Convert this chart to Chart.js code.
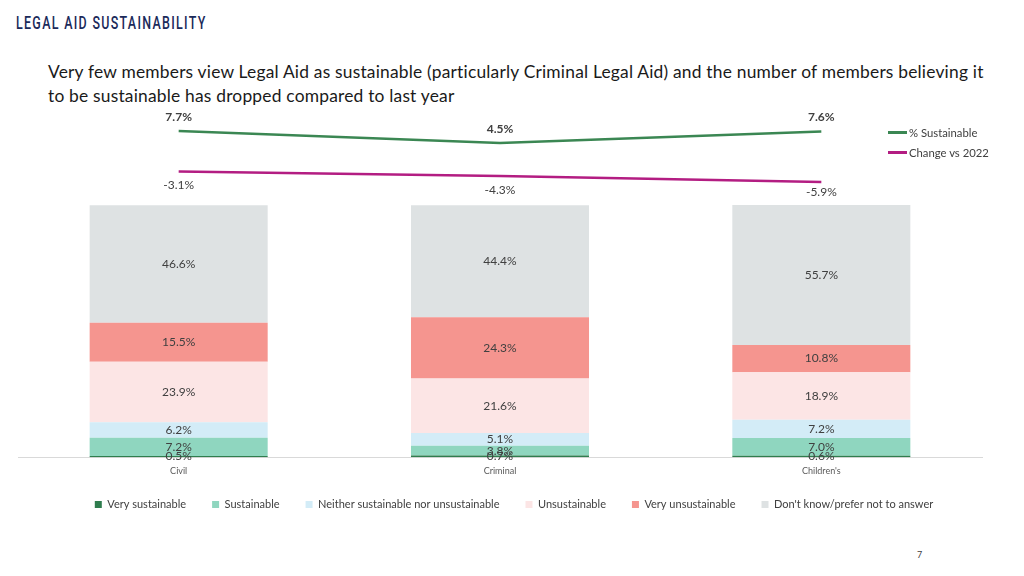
<!DOCTYPE html>
<html>
<head>
<meta charset="utf-8">
<script src="https://cdn.jsdelivr.net/npm/chart.js@4.4.0/dist/chart.umd.min.js"></script>
<style>
  html, body { margin:0; padding:0; background:#fff; }
  body { width:1024px; height:576px; position:relative; overflow:hidden; font-family: Lato, "Noto Sans", sans-serif; }
  #title { position:absolute; left:16px; top:11px; font-family:Roboto,"Liberation Sans",sans-serif; font-size:19px; letter-spacing:2px; color:#1b2a5a; font-weight:500; transform:scaleX(0.655); transform-origin:left top; white-space:nowrap; }
  #sub { position:absolute; left:48px; top:60px; width:1000px; font-size:17.4px; letter-spacing:0.2px; line-height:24px; color:#1a1a1a; white-space:nowrap; }
  #lineWrap { position:absolute; left:0; top:100px; width:1000px; height:100px; }
  #barWrap { position:absolute; left:0; top:195px; width:1024px; height:330px; }
  .lg { position:absolute; left:888px; font-size:11.3px; color:#404040; display:flex; align-items:center; }
  .lg span.ln { display:inline-block; width:19px; height:2.5px; margin-right:2px; }
  #page { position:absolute; left:917px; top:549px; font-size:9px; color:#404040; }
</style>
</head>
<body>
<div id="title">LEGAL AID SUSTAINABILITY</div>
<div id="sub">Very few members view Legal Aid as sustainable (particularly Criminal Legal Aid) and the number of members believing it<br>to be sustainable has dropped compared to last year</div>
<div id="lineWrap"><canvas id="lineChart"></canvas></div>
<div id="barWrap"><canvas id="barChart"></canvas></div>
<div class="lg" style="top:126px;"><span class="ln" style="background:#3b8753"></span>% Sustainable</div>
<div class="lg" style="top:146px;"><span class="ln" style="background:#b31d82"></span>Change vs 2022</div>
<div id="page">7</div>
<script>
const categories = ["Civil", "Criminal", "Children's"];
const pctSustainable = [7.7, 4.5, 7.6];
const changeVs2022 = [-3.1, -4.3, -5.9];

const seriesNames = ["Very sustainable", "Sustainable", "Neither sustainable nor unsustainable", "Unsustainable", "Very unsustainable", "Don't know/prefer not to answer"];
const verySustainable = [0.5, 0.7, 0.6];
const sustainable = [7.2, 3.8, 7.0];
const neither = [6.2, 5.1, 7.2];
const unsustainable = [23.9, 21.6, 18.9];
const veryUnsustainable = [15.5, 24.3, 10.8];
const dontKnow = [46.6, 44.4, 55.7];

const barColors = ["#2f7d4e", "#8fd6bf", "#d3ecf7", "#fce5e5", "#f5958f", "#dee2e3"];
const FONT = "Lato, 'Noto Sans', sans-serif";

const lineLabels = {
  id: 'lineLabels',
  afterDatasetsDraw(chart) {
    const ctx = chart.ctx;
    ctx.save();
    ctx.textAlign = 'center';
    ctx.textBaseline = 'middle';
    chart.data.datasets.forEach((ds, di) => {
      const meta = chart.getDatasetMeta(di);
      meta.data.forEach((pt, i) => {
        const v = ds.data[i];
        if (di === 0) {
          ctx.font = "bold 12px " + FONT;
          ctx.fillStyle = '#404040';
          ctx.fillText(v.toFixed(1) + '%', pt.x, pt.y - 14);
        } else {
          ctx.font = "12px " + FONT;
          ctx.fillStyle = '#404040';
          ctx.fillText(v.toFixed(1) + '%', pt.x, pt.y + (i === 2 ? 10 : 14));
        }
      });
    });
    ctx.restore();
  }
};

new Chart(document.getElementById('lineChart'), {
  type: 'line',
  data: {
    labels: categories,
    datasets: [
      { label: '% Sustainable', data: pctSustainable, borderColor: '#3b8753', borderWidth: 2.5, pointRadius: 0, tension: 0 },
      { label: 'Change vs 2022', data: changeVs2022, borderColor: '#b31d82', borderWidth: 2.5, pointRadius: 0, tension: 0 }
    ]
  },
  options: {
    responsive: true, maintainAspectRatio: false, animation: false,
    layout: { padding: { left: 18, right: 18, top: 0, bottom: 0 } },
    plugins: { legend: { display: false }, tooltip: { enabled: false } },
    scales: {
      x: { display: false, offset: true },
      y: { display: false, min: -10.7, max: 16 }
    }
  },
  plugins: [lineLabels]
});

const barLabels = {
  id: 'barLabels',
  afterDatasetsDraw(chart) {
    const ctx = chart.ctx;
    ctx.save();
    ctx.textAlign = 'center';
    ctx.textBaseline = 'middle';
    ctx.font = "12px " + FONT;
    ctx.fillStyle = '#404040';
    chart.data.datasets.forEach((ds, di) => {
      const meta = chart.getDatasetMeta(di);
      meta.data.forEach((el, i) => {
        const v = ds.data[i];
        ctx.fillText(v.toFixed(1) + '%', el.x, (el.y + el.base) / 2);
      });
    });
    ctx.restore();
  }
};

const legendFit = {
  id: 'legendFit',
  beforeInit(chart) {
    const orig = chart.legend.fit;
    chart.legend.fit = function () { orig.bind(chart.legend)(); this.height += 2; };
  },
  afterLayout(chart) {
    chart.legend.top -= 3;
    chart.legend.bottom -= 3;
    chart.legend.left += 14;
    chart.legend.right += 14;
  }
};

const barData = [verySustainable, sustainable, neither, unsustainable, veryUnsustainable, dontKnow];

new Chart(document.getElementById('barChart'), {
  type: 'bar',
  data: {
    labels: categories,
    datasets: barData.map((d, i) => ({
      label: seriesNames[i], data: d, backgroundColor: barColors[i],
      barPercentage: 1, categoryPercentage: 0.554, borderWidth: 0
    }))
  },
  options: {
    responsive: true, maintainAspectRatio: false, animation: false,
    layout: { padding: { left: 18, right: 42, top: 10, bottom: 0 } },
    plugins: {
      tooltip: { enabled: false },
      legend: {
        position: 'bottom',
        labels: { boxWidth: 7, boxHeight: 7, padding: 26, color: '#404040', font: { size: 11, family: FONT } }
      }
    },
    scales: {
      x: {
        stacked: true,
        grid: { display: false },
        border: { color: '#d9d9d9' },
        ticks: { color: '#595959', font: { size: 9, family: FONT }, padding: 0 }
      },
      y: { stacked: true, display: false, min: 0, max: 100 }
    }
  },
  plugins: [barLabels, legendFit]
});
</script>
</body>
</html>
